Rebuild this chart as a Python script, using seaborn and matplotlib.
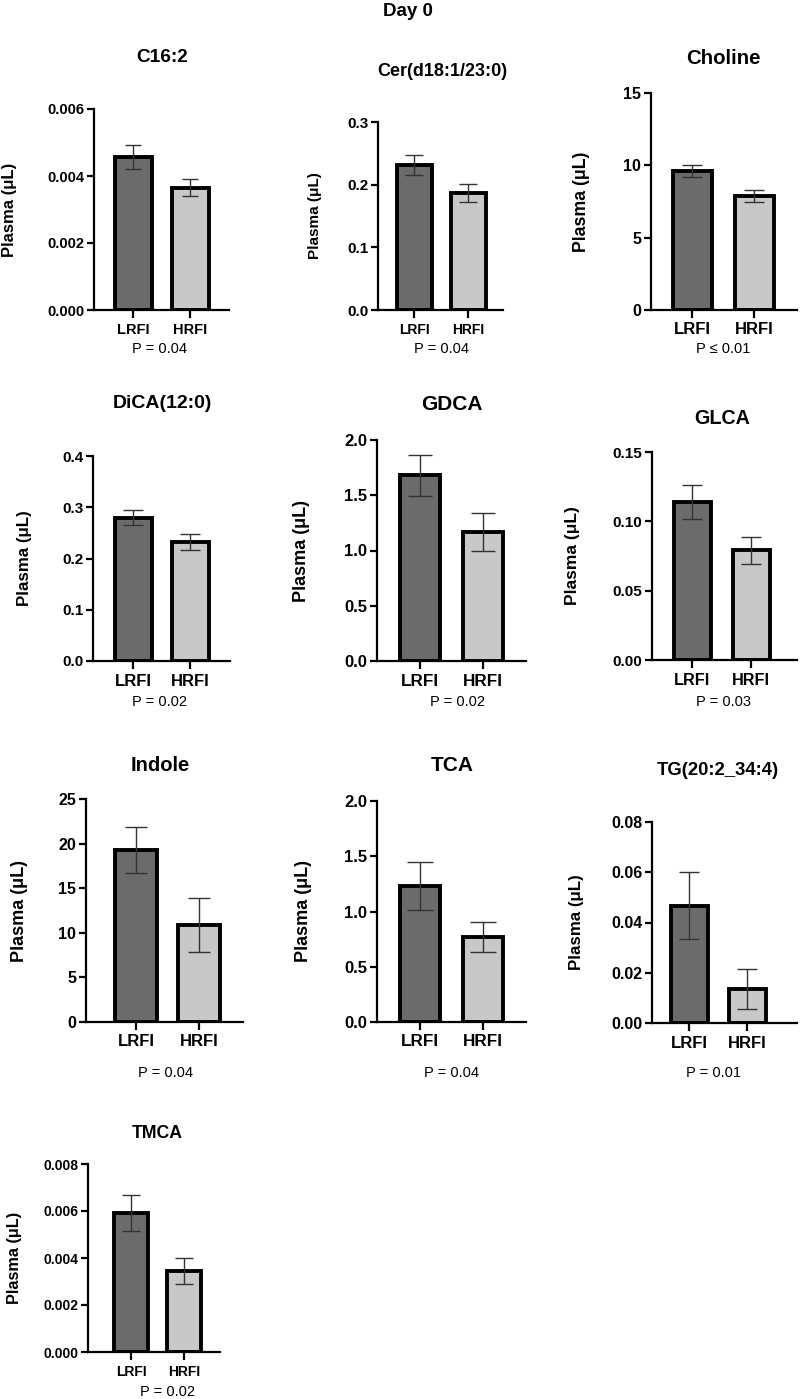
import matplotlib
matplotlib.use("Agg")
import matplotlib.pyplot as plt
import matplotlib.ticker as mticker
import seaborn as sns

# Data (mean and error half-width per group)
groups = ["LRFI", "HRFI"]
metabolites = ["C16:2", "Cer(d18:1/23:0)", "Choline", "DiCA(12:0)", "GDCA",
               "GLCA", "Indole", "TCA", "TG(20:2_34:4)", "TMCA"]
lrfi_mean = [0.00457, 0.232, 9.6, 0.280, 1.68, 0.114, 19.3, 1.23, 0.0467, 0.00592]
hrfi_mean = [0.00365, 0.187, 7.9, 0.232, 1.17, 0.079, 10.9, 0.77, 0.0134, 0.00344]
lrfi_err = [0.00035, 0.016, 0.43, 0.014, 0.185, 0.0125, 2.6, 0.22, 0.0134, 0.00078]
hrfi_err = [0.00026, 0.014, 0.40, 0.015, 0.17, 0.010, 3.0, 0.135, 0.008, 0.00055]
p_labels = ["P = 0.04", "P = 0.04", "P \u2264 0.01", "P = 0.02", "P = 0.02",
            "P = 0.03", "P = 0.04", "P = 0.04", "P = 0.01", "P = 0.02"]
y_max = [0.006, 0.3, 15, 0.4, 2.0, 0.15, 25, 2.0, 0.08, 0.008]
y_step = [0.002, 0.1, 5, 0.1, 0.5, 0.05, 5, 0.5, 0.02, 0.002]
y_fmt = ["%.3f", "%.1f", "%d", "%.1f", "%.1f", "%.2f", "%d", "%.1f", "%.2f", "%.3f"]

# Layout in pixels: axis left, right, top, bottom, bar centres, bar width, cap width,
# title (x, y), p-text (x, y), ylabel x, font sizes (ytick, xtick, title, label)
layout = [
    dict(L=94, R=229, T=109, B=310, c=(133, 190), bw=37, cap=16, title=(162, 57), p=(160, 349), lab=10, fs=(10.5, 10.5, 13.7, 12)),
    dict(L=378, R=503, T=122, B=310, c=(414, 468), bw=35, cap=18, title=(442, 71), p=(441, 349), lab=315, fs=(11, 10, 13, 11)),
    dict(L=651, R=797, T=93, B=310, c=(692, 754), bw=39, cap=21, title=(723, 58), p=(723, 349), lab=582, fs=(11.5, 12, 14.7, 12.8)),
    dict(L=93, R=230, T=456, B=661, c=(133, 190), bw=37, cap=20, title=(162, 403), p=(160, 702), lab=25, fs=(11, 12, 14, 12.2)),
    dict(L=377, R=526, T=440, B=661, c=(420, 483), bw=40, cap=25, title=(452, 404), p=(457, 702), lab=302, fs=(12, 12.3, 15, 13)),
    dict(L=652, R=797, T=452, B=660, c=(692, 751), bw=37, cap=20, title=(722, 418), p=(723, 702), lab=573, fs=(11, 11.7, 14.2, 12.5)),
    dict(L=86, R=243, T=799, B=1022, c=(136, 199), bw=42, cap=22, title=(160, 765), p=(166, 1073), lab=20, fs=(11.5, 12, 14.5, 13)),
    dict(L=377, R=526, T=801, B=1022, c=(420, 483), bw=40, cap=27, title=(452, 765), p=(452, 1073), lab=303, fs=(12, 12.3, 15, 13)),
    dict(L=652, R=797, T=822, B=1023, c=(689, 747), bw=37, cap=20, title=(718, 770), p=(713, 1073), lab=577, fs=(11.5, 12, 13.3, 12.2)),
    dict(L=88, R=220, T=1164, B=1352, c=(131, 184), bw=34, cap=19, title=(157, 1133), p=(168, 1392), lab=15, fs=(10, 10, 12.7, 11.7)),
]

W, H = 800, 1399
bar_colors = {"LRFI": "#6b6b6b", "HRFI": "#c8c8c8"}

sns.set_theme(style="ticks")
plt.rcParams["font.family"] = ["Liberation Sans", "DejaVu Sans"]
plt.rcParams.update({"text.color": "black", "axes.labelcolor": "black",
                     "xtick.color": "black", "ytick.color": "black"})

fig = plt.figure(figsize=(W / 100, H / 100), dpi=100)

fig.text(408 / W, 1 - 11 / H, "Day 0", ha="center", va="center",
         fontsize=13.5, fontweight="bold")

for i, name in enumerate(metabolites):
    lay = layout[i]
    L, R, T, B = lay["L"], lay["R"], lay["T"], lay["B"]
    c0, c1 = lay["c"]
    unit = c1 - c0
    ax = fig.add_axes([L / W, 1 - B / H, (R - L) / W, (B - T) / H])

    means = [lrfi_mean[i], hrfi_mean[i]]
    errs = [lrfi_err[i], hrfi_err[i]]
    sns.barplot(x=groups, y=means, hue=groups, palette=bar_colors, legend=False,
                width=lay["bw"] / unit, edgecolor="black", linewidth=2.8, ax=ax)
    ax.errorbar([0, 1], means, yerr=errs, fmt="none", ecolor="#333333",
                elinewidth=1.0, capsize=lay["cap"] / 1.389 / 2, capthick=1.0, zorder=5)

    ax.set_xlim(-(c0 - L) / unit, 1 + (R - c1) / unit)
    ax.set_ylim(0, y_max[i])
    ax.yaxis.set_major_locator(mticker.MultipleLocator(y_step[i]))
    ax.yaxis.set_major_formatter(mticker.FormatStrFormatter(y_fmt[i]))
    sns.despine(ax=ax)
    for sp in ["left", "bottom"]:
        ax.spines[sp].set_linewidth(1.6)
        ax.spines[sp].set_color("black")

    yfs, xfs, ttl, lfs = lay["fs"]
    ax.tick_params(axis="both", width=1.6, length=5, labelsize=yfs, pad=2)
    ax.tick_params(axis="x", length=6, labelsize=xfs, pad=3)
    for lbl in ax.get_xticklabels() + ax.get_yticklabels():
        lbl.set_fontweight("bold")
    ax.set_xlabel("")
    ax.set_ylabel("")

    fig.text(lay["lab"] / W, 1 - (T + B) / 2 / H, "Plasma (\u03bcL)", rotation=90,
             ha="center", va="center", fontsize=lfs, fontweight="bold")
    fig.text(lay["title"][0] / W, 1 - lay["title"][1] / H, name,
             ha="center", va="center", fontsize=ttl, fontweight="bold")
    fig.text(lay["p"][0] / W, 1 - lay["p"][1] / H, p_labels[i],
             ha="center", va="center", fontsize=10.5)

fig.savefig("out.png", dpi=100, facecolor="white")
